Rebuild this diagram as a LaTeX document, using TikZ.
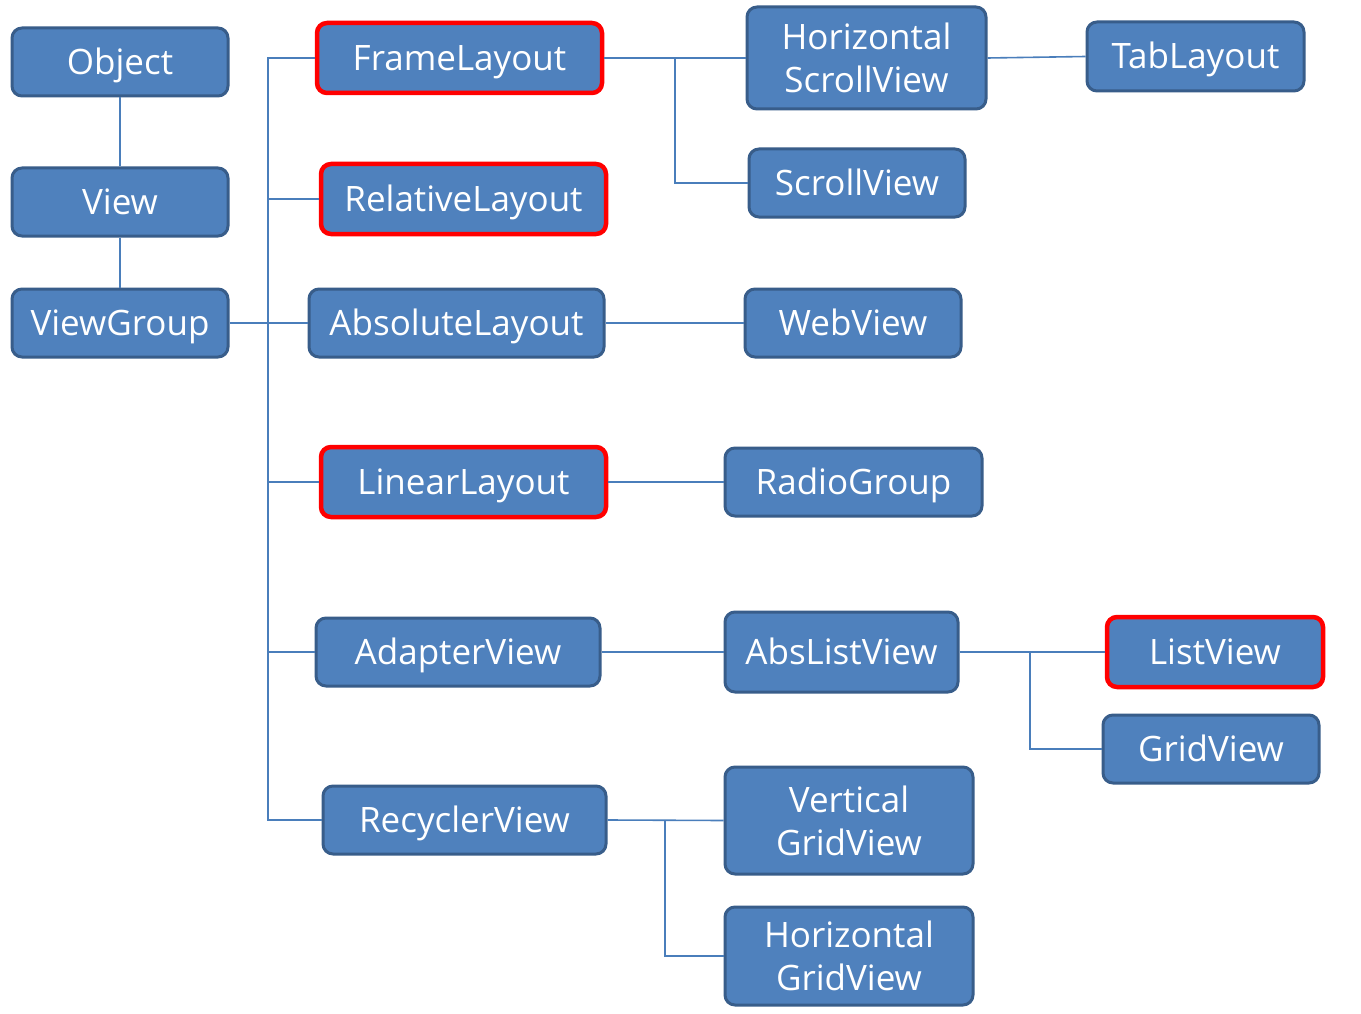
\documentclass[tikz,border=0pt]{standalone}
\usepackage{fontspec}
\setmainfont{Open Sans}
\begin{document}
\begin{tikzpicture}[x=1pt,y=-1pt,
  basebox/.style={draw=boxborder,line width=3pt,fill=boxfill,rounded corners=10pt,
    text=white,inner sep=0pt,
    font=\fontsize{35}{43}\selectfont},
  box/.style={basebox,text height=25pt,text depth=0pt},
  box2/.style={basebox,align=center},
  hl/.style={box,draw=red,line width=4.5pt},
  conn/.style={draw=connc,line width=1.6pt}]
\definecolor{boxfill}{HTML}{4F81BD}
\definecolor{boxborder}{HTML}{385D8A}
\definecolor{connc}{HTML}{4A7EBB}
\useasboundingbox[fill=white] (0,0) rectangle (1361,1014);
\node[box,minimum width=216pt,minimum height=68pt] (obj) at (120,62) {Object};
\node[box,minimum width=216pt,minimum height=68pt] (view) at (120,202) {View};
\node[box,minimum width=216pt,minimum height=68pt] (vg) at (120,323) {ViewGroup};
\node[hl,minimum width=285pt,minimum height=70pt] (frame) at (459.5,58) {FrameLayout};
\node[hl,minimum width=285pt,minimum height=70pt] (rel) at (463.5,199) {RelativeLayout};
\node[box,minimum width=295pt,minimum height=68pt] (abs) at (456.5,323) {AbsoluteLayout};
\node[hl,minimum width=285pt,minimum height=70pt] (lin) at (463.5,482) {LinearLayout};
\node[box,minimum width=284pt,minimum height=68pt] (adapt) at (458,652) {AdapterView};
\node[box,minimum width=283pt,minimum height=68pt] (rec) at (464.5,820) {RecyclerView};
\node[box2,minimum width=239pt,minimum height=102pt] (hsv) at (866.5,58) {Horizontal\\ScrollView};
\node[box,minimum width=216pt,minimum height=68pt] (sv) at (857,183) {ScrollView};
\node[box,minimum width=216pt,minimum height=68pt] (web) at (853,323) {WebView};
\node[box,minimum width=257pt,minimum height=68pt] (radio) at (853.5,482) {RadioGroup};
\node[box,minimum width=233pt,minimum height=80pt] (alv) at (841.5,652) {AbsListView};
\node[hl,minimum width=216pt,minimum height=70pt] (list) at (1215,652) {ListView};
\node[box,minimum width=216pt,minimum height=68pt] (grid) at (1211,749) {GridView};
\node[box2,minimum width=248pt,minimum height=107pt] (vgv) at (849,820.5) {Vertical\\GridView};
\node[box2,minimum width=248pt,minimum height=98pt] (hgv) at (849,956) {Horizontal\\GridView};
\node[box,minimum width=217pt,minimum height=69pt] (tab) at (1195.5,56.5) {TabLayout};
% connectors
\draw[conn] (obj) -- (view);
\draw[conn] (view) -- (vg);
\draw[conn] (vg.east) -- (abs.west);
\draw[conn] (frame.west) -- (268,58) |- (rec.west);
\draw[conn] (268,199) -- (rel.west);
\draw[conn] (268,482) -- (lin.west);
\draw[conn] (268,652) -- (adapt.west);
\draw[conn] (frame.east) -- (hsv.west);
\draw[conn] (675,58) |- (sv.west);
\draw[conn] (hsv.east) -- (tab.west);
\draw[conn] (abs.east) -- (web.west);
\draw[conn] (lin.east) -- (radio.west);
\draw[conn] (adapt.east) -- (alv.west);
\draw[conn] (alv.east) -- (list.west);
\draw[conn] (1030,652) |- (grid.west);
\draw[conn] (rec.east) -- (vgv.west);
\draw[conn] (665,820) |- (hgv.west);
\end{tikzpicture}
\end{document}
